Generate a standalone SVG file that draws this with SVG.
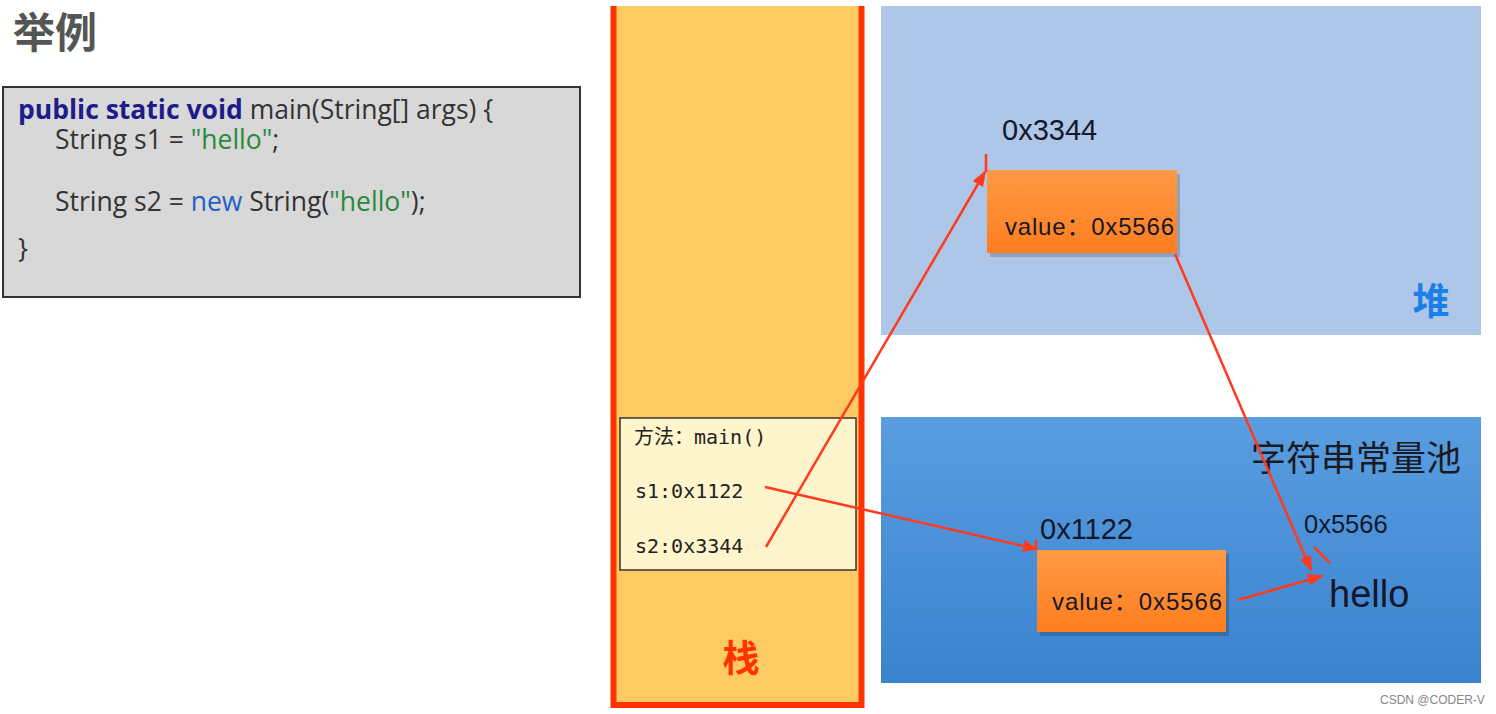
<svg xmlns="http://www.w3.org/2000/svg" width="1496" height="714" viewBox="0 0 1496 714">
<defs>
<linearGradient id="poolGrad" x1="0" y1="0" x2="0" y2="1">
<stop offset="0" stop-color="#5a9de0"/>
<stop offset="1" stop-color="#3a83cf"/>
</linearGradient>
<linearGradient id="objGrad" x1="0" y1="0" x2="0" y2="1">
<stop offset="0" stop-color="#ff9a45"/>
<stop offset="1" stop-color="#ff7d1e"/>
</linearGradient>
<marker id="arrow" markerUnits="userSpaceOnUse" markerWidth="16" markerHeight="12" refX="14" refY="6" orient="auto">
<path d="M0,0 L16,6 L0,12 Z" fill="#ff3a1f"/>
</marker>
</defs>
<style>
.sans{font-family:"Liberation Sans","Noto Sans CJK SC",sans-serif;}
.mono{font-family:"DejaVu Sans Mono","Noto Sans CJK SC",monospace;font-size:20px;fill:#222;}
.code{font-family:"Open Sans","Liberation Sans",sans-serif;font-size:26.5px;fill:#333;}
.kw{font-weight:bold;fill:#1c1c8a;}
.str{fill:#2a8a3a;}
.new{fill:#2260c8;}
.addr{font-family:"Liberation Sans","Noto Sans CJK SC",sans-serif;fill:#14182a;}
.obj{fill:url(#objGrad);}
.shadow{fill:#000;opacity:0.18;}
.conn{stroke:#ff3a1f;stroke-width:2.5;fill:none;}
</style>
<rect width="1496" height="714" fill="#ffffff"/>

<g id="title">
<text x="13" y="48" class="sans" font-size="42" font-weight="bold" fill="#555">举例</text>
</g>

<g id="code">
<rect x="3" y="87" width="577" height="210" fill="#d8d8d8" stroke="#333" stroke-width="2"/>
<text x="18" y="119" class="code"><tspan class="kw">public static void</tspan> main(String[] args) {</text>
<text x="55" y="149" class="code">String s1 = <tspan class="str">"hello"</tspan>;</text>
<text x="55" y="211" class="code">String s2 = <tspan class="new">new</tspan> String(<tspan class="str">"hello"</tspan>);</text>
<text x="18" y="258" class="code">}</text>
</g>

<g id="stack">
<rect x="613" y="6" width="249" height="700" fill="#fecb62"/>
<path d="M613.5,6 V705 H861.5 V6" fill="none" stroke="#ff3300" stroke-width="6"/>
<text x="741" y="672" class="sans" font-size="37" font-weight="bold" fill="#ff3300" text-anchor="middle">栈</text>
</g>

<g id="frame">
<rect x="620" y="418" width="236" height="152" fill="#fff5cc" stroke="#333" stroke-width="1.5"/>
<text x="634" y="444" class="mono">方法：main()</text>
<text x="635" y="498" class="mono">s1:0x1122</text>
<text x="635" y="553" class="mono">s2:0x3344</text>
</g>

<g id="heap">
<rect x="881" y="6" width="600" height="329" fill="#aec6e8"/>
<text x="1431" y="315" class="sans" font-size="37" font-weight="bold" fill="#1a7fe8" text-anchor="middle">堆</text>
</g>

<g id="heapObj">
<text x="1002" y="140" class="addr" font-size="29">0x3344</text>
<rect x="990" y="174" width="190" height="83" class="shadow"/>
<rect x="987" y="170" width="190" height="83" class="obj"/>
<text x="1005" y="235" class="addr" font-size="24" textLength="169" lengthAdjust="spacing">value：0x5566</text>
</g>

<g id="pool">
<rect x="881" y="417" width="600" height="266" fill="url(#poolGrad)"/>
<text x="1356" y="471" class="sans" font-size="35" fill="#1a1a22" text-anchor="middle">字符串常量池</text>
</g>

<g id="poolObj">
<text x="1040" y="539" class="addr" font-size="29">0x1122</text>
<rect x="1040" y="554" width="189" height="82" class="shadow"/>
<rect x="1037" y="550" width="189" height="82" class="obj"/>
<text x="1052" y="610" class="addr" font-size="24" textLength="170" lengthAdjust="spacing">value：0x5566</text>
</g>

<g id="helloLiteral">
<text x="1304" y="533" class="addr" font-size="25.5">0x5566</text>
<text x="1329" y="607" class="addr" font-size="38">hello</text>
</g>

<g id="connectors">
<line x1="766" y1="547" x2="985" y2="172" class="conn" marker-end="url(#arrow)"/>
<line x1="986" y1="154" x2="986" y2="172" class="conn"/>
<line x1="765" y1="487" x2="1037" y2="549" class="conn" marker-end="url(#arrow)"/>
<line x1="1036" y1="540" x2="1036" y2="550" class="conn"/>
<line x1="1175" y1="254" x2="1311" y2="570" class="conn" marker-end="url(#arrow)"/>
<line x1="1238" y1="600" x2="1322" y2="576" class="conn" marker-end="url(#arrow)"/>
<line x1="1314" y1="547" x2="1330" y2="563" class="conn"/>
</g>

<g id="watermark">
<text x="1380" y="704" class="sans" font-size="12" fill="#888">CSDN @CODER-V</text>
</g>
</svg>
